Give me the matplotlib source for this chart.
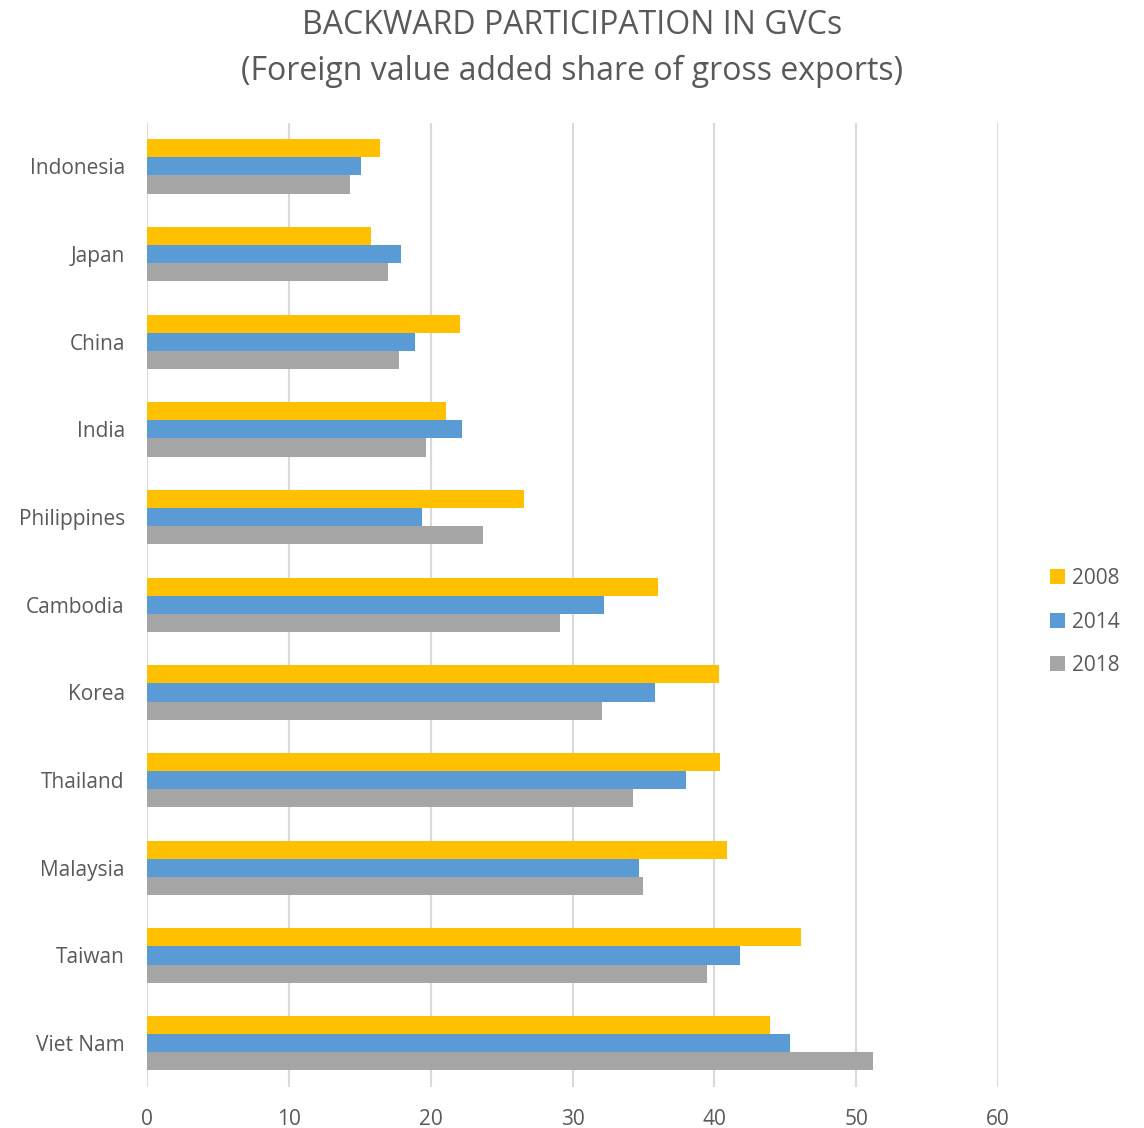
import matplotlib
matplotlib.use("Agg")
import matplotlib.pyplot as plt
from matplotlib.patches import Patch
import numpy as np

plt.rcParams['font.family'] = ['Open Sans', 'DejaVu Sans']

countries = ["Indonesia", "Japan", "China", "India", "Philippines", "Cambodia",
             "Korea", "Thailand", "Malaysia", "Taiwan", "Viet Nam"]
years = ["2008", "2014", "2018"]
v2008 = [16.4, 15.8, 22.1, 21.1, 26.6, 36.0, 40.3, 40.4, 40.9, 46.1, 43.9]
v2014 = [15.1, 17.9, 18.9, 22.2, 19.4, 32.2, 35.8, 38.0, 34.7, 41.8, 45.3]
v2018 = [14.3, 17.0, 17.8, 19.7, 23.7, 29.1, 32.1, 34.3, 35.0, 39.5, 51.2]
xticks = [0, 10, 20, 30, 40, 50, 60]

colors = ["#FFC000", "#5B9BD5", "#A5A5A5"]
series = [v2008, v2014, v2018]

fig = plt.figure(figsize=(11.44, 11.28), dpi=100)
ax = fig.add_axes([147/1144, 1 - 1087/1128, (998-147)/1144, (1087-122.6)/1128])

y = np.arange(len(countries))
h = 0.206
for i, (vals, c) in enumerate(zip(series, colors)):
    ax.barh(y + (i - 1) * h, vals, height=h, color=c, linewidth=0, zorder=3)

ax.set_ylim(len(countries) - 0.5, -0.5)
ax.set_xlim(0, 60)
ax.set_xticks(xticks)
ax.set_xticklabels([str(t) for t in xticks])
ax.set_yticks(y)
ax.set_yticklabels(countries)
ax.grid(axis='x', color='#D9D9D9', linewidth=1.5, zorder=0)
ax.grid(axis='y', visible=False)
for s in ax.spines.values():
    s.set_visible(False)
ax.tick_params(axis='both', length=0, colors='#595959', labelsize=15)
ax.tick_params(axis='y', pad=16)
ax.tick_params(axis='x', pad=16)

fig.text(0.5, 1 - 25/1128, "BACKWARD PARTICIPATION IN GVCs", ha='center', va='center',
         fontsize=23, color='#595959')
fig.text(0.5, 1 - 71/1128, "(Foreign value added share of gross exports)", ha='center', va='center',
         fontsize=23, color='#595959')

handles = [Patch(facecolor=c, edgecolor='none', label=l) for c, l in zip(colors, years)]
leg = fig.legend(handles=handles, loc='center left', bbox_to_anchor=(1050/1144, 1 - 622/1128),
                 frameon=False, fontsize=15, handlelength=0.7, handleheight=0.7,
                 handletextpad=0.35, labelspacing=1.08, borderaxespad=0, borderpad=0)
for t in leg.get_texts():
    t.set_color('#595959')

fig.savefig("out.png", dpi=100)
